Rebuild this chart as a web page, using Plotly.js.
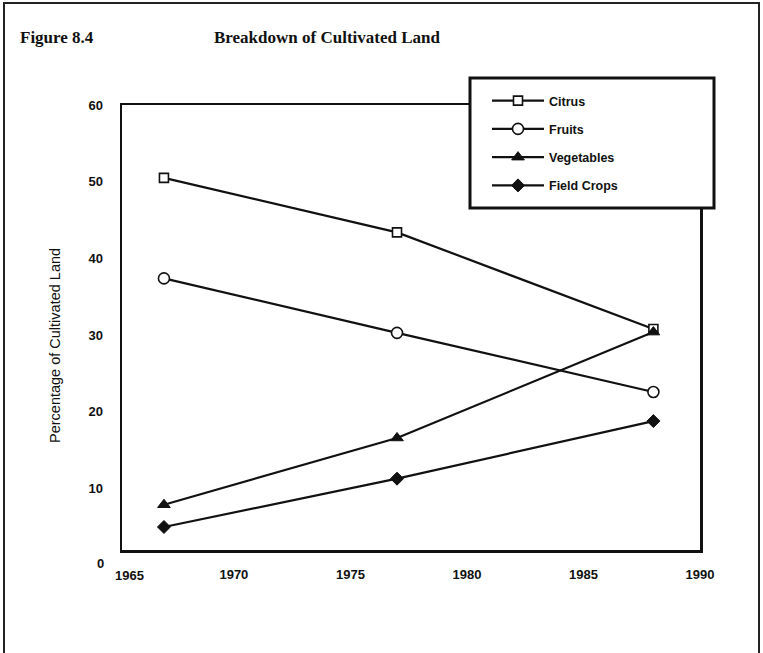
<!DOCTYPE html>
<html>
<head>
<meta charset="utf-8">
<script src="https://cdn.plot.ly/plotly-3.0.1.min.js"></script>
<style>html,body{margin:0;padding:0;background:#fff;}#chart{width:763px;height:653px;}</style>
</head>
<body>
<div id="chart"></div>
<script>
const years = [1967, 1977, 1988];
const citrus = [50.5, 43.4, 30.8];
const fruits = [37.4, 30.3, 22.6];
const vegetables = [7.9, 16.6, 30.4];
const fieldCrops = [5.0, 11.3, 18.8];
const seriesNames = ["Citrus", "Fruits", "Vegetables", "Field Crops"];
const xTickVals = [1970, 1975, 1980, 1985, 1990];
const yTickVals = [10, 20, 30, 40, 50, 60];

const sans = "Liberation Sans, Arial, sans-serif";
const serif = "Liberation Serif, Times New Roman, serif";
const line = {color: "#111", width: 2.2};

const traces = [
  {x: years, y: citrus, name: seriesNames[0], legendgroup: "a", mode: "lines+markers", line: line,
   marker: {symbol: "square", size: 9, color: "#fff", line: {color: "#111", width: 1.6}}},
  {x: years, y: fruits, name: seriesNames[1], legendgroup: "b", mode: "lines+markers", line: line,
   marker: {symbol: "circle", size: 11, color: "#fff", line: {color: "#111", width: 1.6}}},
  {x: years, y: vegetables, name: seriesNames[2], legendgroup: "c", mode: "lines+markers", line: line,
   marker: {symbol: "triangle-up", size: 11, color: "#111", line: {color: "#111", width: 1}}},
  {x: years, y: fieldCrops, name: seriesNames[3], legendgroup: "d", mode: "lines+markers", line: line,
   marker: {symbol: "diamond", size: 10, color: "#111", line: {color: "#111", width: 1}}}
];

const L = 122, R = 700, T = 105, B = 550;
const W = R - L, H = B - T;
const px = v => (v - L) / W;
const py = v => (B - v) / H;

const tickFont = {family: sans, size: 13, color: "#111", weight: "bold"};

const layout = {
  width: 763, height: 653,
  margin: {l: L, r: 763 - R, t: T, b: 653 - B},
  paper_bgcolor: "#fff", plot_bgcolor: "#fff",
  showlegend: true,
  font: {family: sans, color: "#111"},
  xaxis: {range: [1965.2, 1990], tickvals: xTickVals, ticks: "", showgrid: false, zeroline: false,
          showline: true, mirror: true, linecolor: "#111", linewidth: 2.5,
          tickfont: tickFont, ticklabelstandoff: 11},
  yaxis: {range: [2, 60], tickvals: yTickVals, ticks: "", showgrid: false, zeroline: false,
          showline: true, mirror: true, linecolor: "#111", linewidth: 2.5,
          tickfont: tickFont, ticklabelstandoff: 14},
  legend: {x: px(487), y: py(86), xanchor: "left", yanchor: "top", bgcolor: "rgba(0,0,0,0)",
           borderwidth: 0, tracegroupgap: 9, traceorder: "grouped", itemwidth: 52,
           font: {family: sans, size: 12.5, color: "#111", weight: "bold"}},
  shapes: [
    {type: "rect", xref: "paper", yref: "paper", x0: px(4), x1: px(759), y0: py(720), y1: py(3),
     line: {color: "#222", width: 2}, layer: "below"},
    {type: "rect", xref: "paper", yref: "paper", x0: px(470), x1: px(714), y0: py(208), y1: py(78),
     line: {color: "#111", width: 3}, fillcolor: "#fff", layer: "above"}
  ],
  annotations: [
    {text: "Figure 8.4", xref: "paper", yref: "paper", x: px(18), y: py(37), xanchor: "left", yanchor: "middle",
     showarrow: false, font: {family: serif, size: 17, color: "#111", weight: "bold"}},
    {text: "Breakdown of Cultivated Land", xref: "paper", yref: "paper", x: px(212), y: py(37), xanchor: "left", yanchor: "middle",
     showarrow: false, font: {family: serif, size: 17, color: "#111", weight: "bold"}},
    {text: "Percentage of Cultivated Land", xref: "paper", yref: "paper", x: px(55), y: py(346), textangle: -90,
     xanchor: "center", yanchor: "middle", showarrow: false, font: {family: sans, size: 14.5, color: "#111"}},
    {text: "0", xref: "paper", yref: "paper", x: px(106), y: py(563), xanchor: "right", yanchor: "middle",
     showarrow: false, font: tickFont},
    {text: "1965", xref: "paper", yref: "paper", x: px(129), y: py(575), xanchor: "center", yanchor: "middle",
     showarrow: false, font: tickFont}
  ]
};

Plotly.newPlot("chart", traces, layout, {displayModeBar: false, staticPlot: true});
</script>
</body>
</html>
